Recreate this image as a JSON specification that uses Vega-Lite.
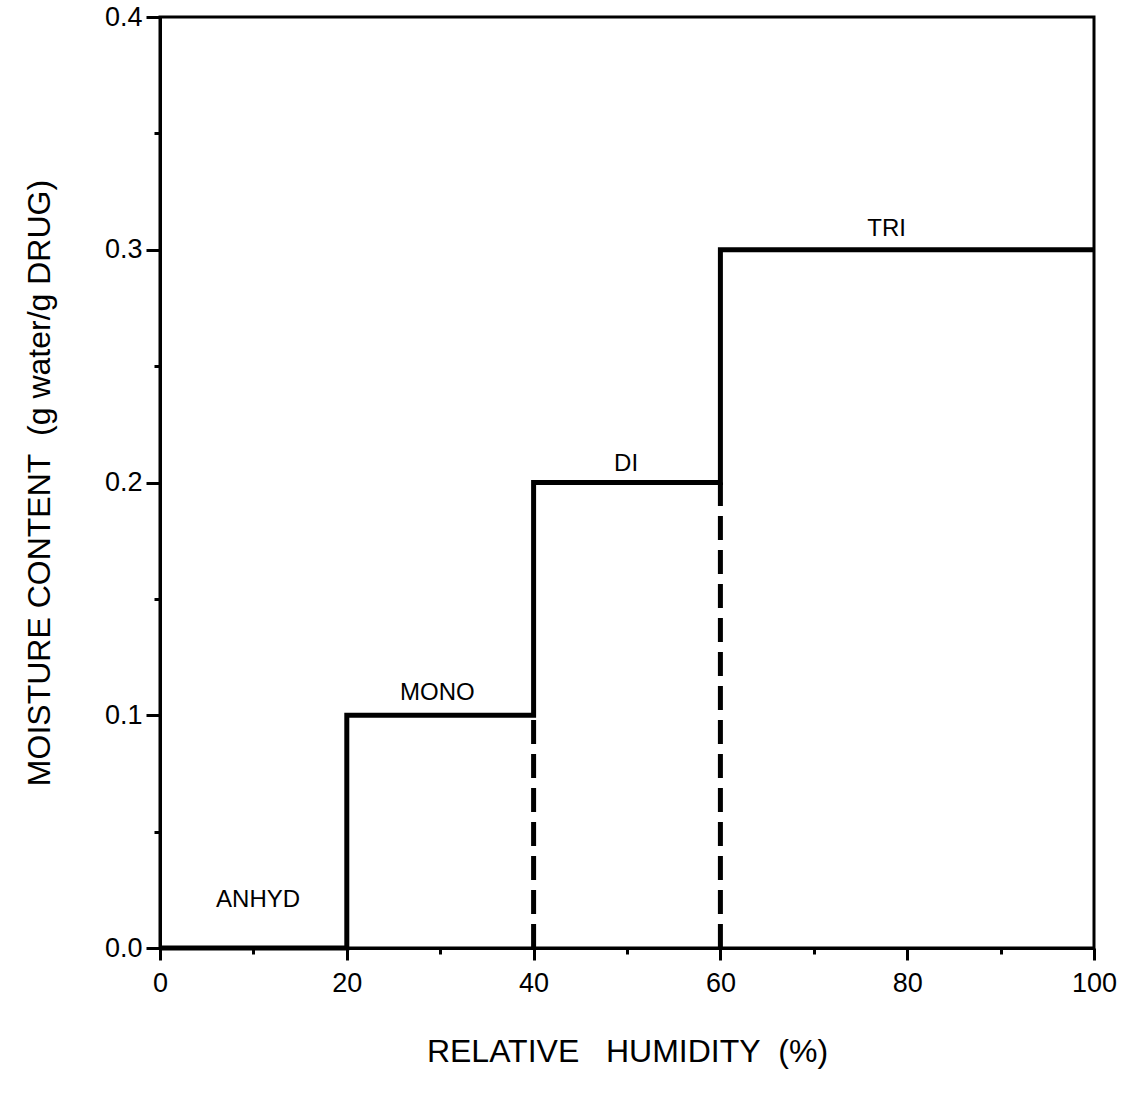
{
  "$schema": "https://vega.github.io/schema/vega-lite/v6.json",
  "width": 934,
  "height": 931,
  "autosize": {"type": "none"},
  "padding": {"left": 160, "top": 17, "right": 35, "bottom": 150},
  "background": "white",
  "config": {
    "view": {"stroke": "black", "strokeWidth": 3},
    "font": "Liberation Sans",
    "axis": {
      "domainColor": "black", "domainWidth": 3,
      "tickColor": "black", "tickWidth": 3,
      "labelColor": "black", "labelFont": "Liberation Sans", "labelFontSize": 27,
      "titleColor": "black", "titleFont": "Liberation Sans", "titleFontWeight": "normal",
      "labelFlush": false,
      "grid": false
    }
  },
  "datasets": {
    "step": [
      {"rh": 0, "mc": 0.0},
      {"rh": 20, "mc": 0.0},
      {"rh": 20, "mc": 0.1},
      {"rh": 40, "mc": 0.1},
      {"rh": 40, "mc": 0.2},
      {"rh": 60, "mc": 0.2},
      {"rh": 60, "mc": 0.3},
      {"rh": 100, "mc": 0.3}
    ],
    "dashed": [
      {"boundary": "MONO-DI", "rh": 40, "mc": 0.0},
      {"boundary": "MONO-DI", "rh": 40, "mc": 0.1},
      {"boundary": "DI-TRI", "rh": 60, "mc": 0.0},
      {"boundary": "DI-TRI", "rh": 60, "mc": 0.2}
    ],
    "labels": [
      {"label": "ANHYD", "rh": 10.5, "mc": 0.0206},
      {"label": "MONO", "rh": 29.7, "mc": 0.1096},
      {"label": "DI", "rh": 49.9, "mc": 0.208},
      {"label": "TRI", "rh": 77.8, "mc": 0.309}
    ]
  },
  "layer": [
    {
      "data": {"name": "step"},
      "mark": {"type": "line", "color": "black", "strokeWidth": 5, "strokeJoin": "miter", "strokeCap": "butt"},
      "encoding": {
        "x": {
          "field": "rh", "type": "quantitative",
          "scale": {"domain": [0, 100], "nice": false},
          "axis": {
            "title": "RELATIVE\u00a0\u00a0 HUMIDITY\u00a0 (%)",
            "titleFontSize": 32,
            "values": [0, 10, 20, 30, 40, 50, 60, 70, 80, 90, 100],
            "labelExpr": "datum.value % 20 === 0 ? format(datum.value, 'd') : ''",
            "tickSize": {"condition": {"test": "datum.value % 20 === 0", "value": 12}, "value": 6},
            "labelPadding": 10,
            "titlePadding": 40
          }
        },
        "y": {
          "field": "mc", "type": "quantitative",
          "scale": {"domain": [0, 0.4], "nice": false},
          "axis": {
            "title": "MOISTURE CONTENT\u00a0 (g water/g DRUG)",
            "titleFontSize": 32,
            "values": [0, 0.05, 0.1, 0.15, 0.2, 0.25, 0.3, 0.35, 0.4],
            "labelExpr": "abs(datum.value*10 - round(datum.value*10)) < 0.001 ? format(datum.value, '.1f') : ''",
            "tickSize": {"condition": {"test": "abs(datum.value*10 - round(datum.value*10)) < 0.001", "value": 14}, "value": 6},
            "labelPadding": 4,
            "titlePadding": 48
          }
        }
      }
    },
    {
      "data": {"name": "dashed"},
      "mark": {"type": "line", "color": "black", "strokeWidth": 5, "strokeDash": [24, 10], "strokeCap": "butt"},
      "encoding": {
        "x": {"field": "rh", "type": "quantitative"},
        "y": {"field": "mc", "type": "quantitative"},
        "detail": {"field": "boundary"}
      }
    },
    {
      "data": {"name": "labels"},
      "mark": {"type": "text", "color": "black", "font": "Liberation Sans", "fontSize": 24, "baseline": "middle", "align": "center"},
      "encoding": {
        "x": {"field": "rh", "type": "quantitative"},
        "y": {"field": "mc", "type": "quantitative"},
        "text": {"field": "label"}
      }
    }
  ]
}
